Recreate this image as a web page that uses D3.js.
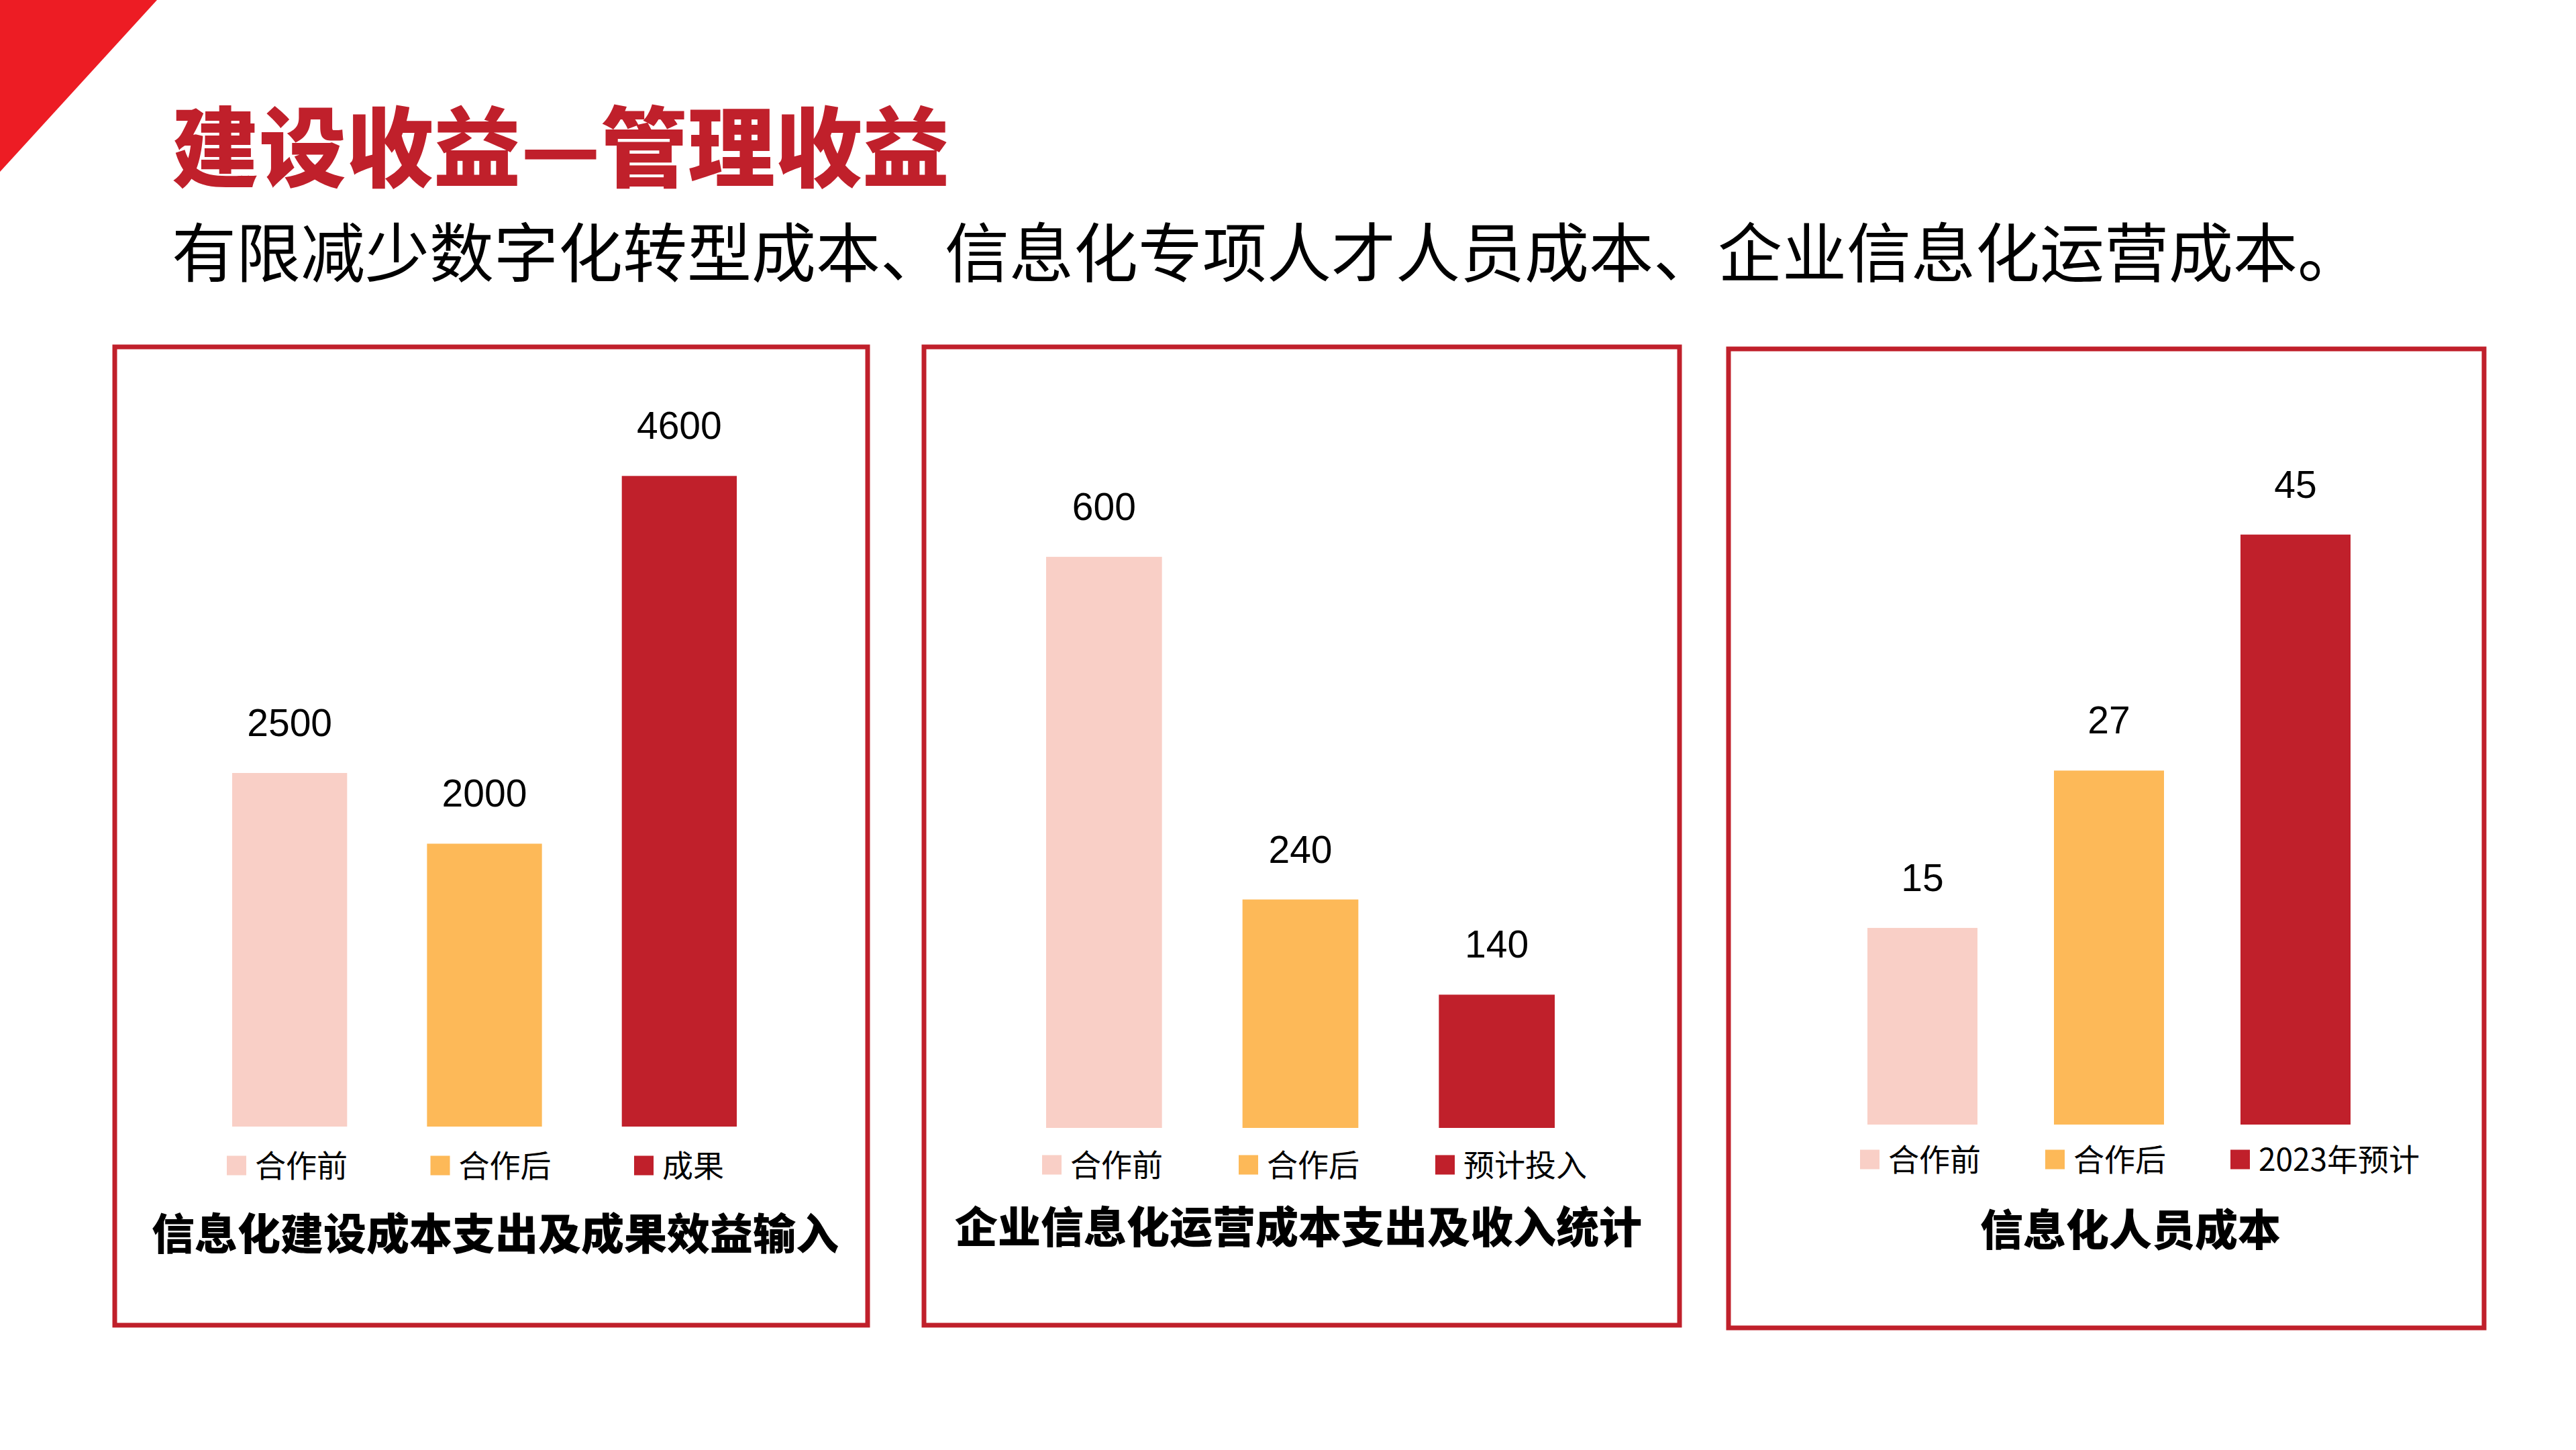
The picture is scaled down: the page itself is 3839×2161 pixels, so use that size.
<!DOCTYPE html>
<html>
<head>
<meta charset="utf-8">
<script src="https://cdn.jsdelivr.net/npm/d3@7"></script>
<style>
  html, body { margin: 0; padding: 0; background: #fff; }
  svg { display: block; }
</style>
</head>
<body>
<div id="chart"></div>
<script>
"use strict";

// Page text
const pageTitle = "建设收益—管理收益";
const pageSubtitle = "有限减少数字化转型成本、信息化专项人才人员成本、企业信息化运营成本。";

// Panel 1
const buildTitle = "信息化建设成本支出及成果效益输入";
const buildCategories = ["合作前", "合作后", "成果"];
const buildValues = [2500, 2000, 4600];

// Panel 2
const opsTitle = "企业信息化运营成本支出及收入统计";
const opsCategories = ["合作前", "合作后", "预计投入"];
const opsValues = [600, 240, 140];

// Panel 3
const staffTitle = "信息化人员成本";
const staffCategories = ["合作前", "合作后", "2023年预计"];
const staffValues = [15, 27, 45];

const barColors = ["#F9CFC6", "#FDB958", "#C0202B"];

const W = 3839, H = 2161;
const cjk = "'Noto Sans CJK SC', 'Noto Sans', sans-serif";
const latin = "'Liberation Sans', Arial, sans-serif";

const svg = d3.select("#chart").append("svg")
    .attr("width", W)
    .attr("height", H)
    .attr("viewBox", [0, 0, W, H]);

// Red corner triangle
svg.append("path")
    .attr("d", "M0,0L234,0L0,256Z")
    .attr("fill", "#ED1C24");

svg.append("text")
    .attr("x", 256)
    .attr("y", 268)
    .attr("font-family", cjk)
    .attr("font-weight", 900)
    .attr("font-size", 130)
    .attr("fill", "#C0202B")
    .text(pageTitle);

svg.append("text")
    .attr("x", 256)
    .attr("y", 412)
    .attr("font-family", cjk)
    .attr("font-size", 96)
    .attr("fill", "#000")
    .text(pageSubtitle);

// Layout of each panel (positions only, values come from the arrays above)
const panels = [
    { title: buildTitle, cats: buildCategories, vals: buildValues, yMax: 5000,
      box: [171, 517, 1293, 1975], bars: [346, 1098], base: 1679, top: 625,
      legendX: 338, legendStep: 303.5, legendY: 1737, titleX: 738, titleY: 1862 },
    { title: opsTitle, cats: opsCategories, vals: opsValues, yMax: 700,
      box: [1377, 517, 2503, 1975], bars: [1559, 2317], base: 1681, top: 688,
      legendX: 1553, legendStep: 293, legendY: 1736, titleX: 1935, titleY: 1852 },
    { title: staffTitle, cats: staffCategories, vals: staffValues, yMax: 50,
      box: [2576, 520, 3702, 1979], bars: [2783, 3503], base: 1676, top: 699,
      legendX: 2772, legendStep: 276, legendY: 1728, titleX: 3175, titleY: 1856 }
];

panels.forEach(DrawPanel);

function DrawPanel(p) {
    const g = svg.append("g");

    // Frame
    g.append("rect")
        .attr("x", p.box[0])
        .attr("y", p.box[1])
        .attr("width", p.box[2] - p.box[0])
        .attr("height", p.box[3] - p.box[1])
        .attr("fill", "none")
        .attr("stroke", "#C0202B")
        .attr("stroke-width", 7);

    const xScale = d3.scaleBand()
        .domain(p.cats)
        .range(p.bars)
        .paddingInner(0.41)
        .paddingOuter(0);

    const yScale = d3.scaleLinear()
        .domain([0, p.yMax])
        .range([p.base, p.top]);

    const data = p.cats.map((c, i) => ({ cat: c, value: p.vals[i], color: barColors[i] }));

    // Bars
    g.selectAll(".bar")
        .data(data)
        .join("rect")
        .attr("class", "bar")
        .attr("x", d => xScale(d.cat))
        .attr("y", d => yScale(d.value))
        .attr("width", xScale.bandwidth())
        .attr("height", d => yScale(0) - yScale(d.value))
        .attr("fill", d => d.color);

    // Value labels
    g.selectAll(".valueLabel")
        .data(data)
        .join("text")
        .attr("class", "valueLabel")
        .attr("x", d => xScale(d.cat) + xScale.bandwidth() / 2)
        .attr("y", d => yScale(d.value) - 55)
        .attr("text-anchor", "middle")
        .attr("font-family", latin)
        .attr("font-size", 57)
        .attr("fill", "#000")
        .text(d => d.value);

    // Legend
    const legend = g.selectAll(".legendItem")
        .data(data)
        .join("g")
        .attr("class", "legendItem")
        .attr("transform", (d, i) => `translate(${p.legendX + i * p.legendStep},${p.legendY})`);

    legend.append("rect")
        .attr("x", 0)
        .attr("y", -14.5)
        .attr("width", 29)
        .attr("height", 29)
        .attr("fill", d => d.color);

    legend.append("text")
        .attr("x", 42)
        .attr("y", 17)
        .attr("font-family", cjk)
        .attr("font-size", 46)
        .attr("fill", "#000")
        .text(d => d.cat);

    // Panel title
    g.append("text")
        .attr("x", p.titleX)
        .attr("y", p.titleY)
        .attr("text-anchor", "middle")
        .attr("font-family", cjk)
        .attr("font-weight", 900)
        .attr("font-size", 64)
        .attr("fill", "#000")
        .text(p.title);
}
</script>
</body>
</html>
